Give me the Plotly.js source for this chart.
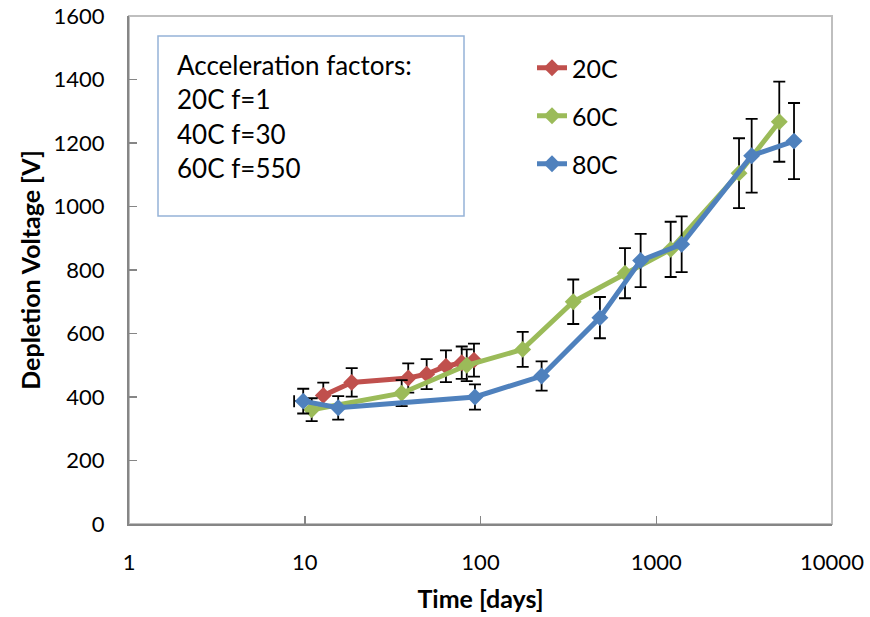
<!DOCTYPE html>
<html>
<head>
<meta charset="utf-8">
<script src="https://cdn.plot.ly/plotly-3.0.1.min.js"></script>
<style>html,body{margin:0;padding:0;background:#fff;}#chart{width:870px;height:617px;}</style>
</head>
<body>
<div id="chart"></div>
<script>
// 20C
const t20 = [12.75, 18.5, 38.8, 49.4, 63.6, 78.2, 91.8];
const v20 = [405, 446, 460, 472, 497, 508, 516];
const e20 = [40, 45, 46, 47, 50, 51, 52];
// 60C
const t60 = [10.95, 35.6, 83.5, 173.8, 337, 664, 1208, 2958, 5012];
const v60 = [360, 412, 500, 550, 700, 790, 865, 1105, 1267];
const e60 = [36, 41, 50, 55, 70, 79, 87, 110, 126];
// 80C
const t80 = [9.8, 15.5, 93, 222.7, 478, 815, 1395, 3490, 6080];
const v80 = [387, 366, 400, 466, 650, 830, 881, 1160, 1206];
const e80 = [39, 37, 40, 46, 65, 84, 88, 116, 120];
const e80xMinus = [1.1, 0, 0, 0, 0, 0, 0, 0, 0];

const xTickVals = [1, 10, 100, 1000, 10000];
const xTickText = ['1', '10', '100', '1000', '10000'];
const boxLines = ['Acceleration factors:', '20C f=1', '40C f=30', '60C f=550'];

const FONT = 'Lato, "Open Sans", sans-serif';
const errStyle = {type: 'data', visible: true, color: '#000', thickness: 1.8, width: 6};

function trace(name, x, y, e, color, legend, ex) {
  const tr = {
    type: 'scatter', mode: 'lines+markers', name: name, x: x, y: y,
    line: {color: color, width: 5},
    marker: {symbol: 'diamond', size: 13, color: color},
    error_y: Object.assign({array: e}, errStyle),
    legend: legend
  };
  if (ex) tr.error_x = Object.assign({symmetric: false, array: ex.map(() => 0), arrayminus: ex}, errStyle);
  return tr;
}

const data = [
  trace('20C', t20, v20, e20, '#C0504D', 'legend'),
  trace('60C', t60, v60, e60, '#9BBB59', 'legend2'),
  trace('80C', t80, v80, e80, '#4F81BD', 'legend3', e80xMinus)
];

const W = 870, H = 617, L = 129, R = 38, T = 16, B = 93;
const pw = W - L - R, ph = H - T - B;
function px2x(p) { return (p - L) / pw; }
function py2y(p) { return 1 - (p - T) / ph; }

const legendCommon = {
  xref: 'paper', yref: 'paper', xanchor: 'left', yanchor: 'middle',
  bgcolor: 'rgba(0,0,0,0)', borderwidth: 0,
  font: {family: FONT, size: 25, color: '#000'}
};

const annotations = boxLines.map((s, i) => ({
  xref: 'paper', yref: 'paper', x: px2x(175), y: py2y(65 + i * 34.3),
  xanchor: 'left', yanchor: 'middle', showarrow: false, text: s,
  font: {family: FONT, size: 26, color: '#000'}
}));

const layout = {
  width: W, height: H,
  margin: {l: L, r: R, t: T, b: B, pad: 0},
  paper_bgcolor: '#fff', plot_bgcolor: '#fff',
  font: {family: FONT, size: 21, color: '#000'},
  showlegend: true,
  legend: Object.assign({x: px2x(532), y: py2y(68)}, legendCommon),
  legend2: Object.assign({x: px2x(532), y: py2y(116)}, legendCommon),
  legend3: Object.assign({x: px2x(532), y: py2y(164)}, legendCommon),
  xaxis: {
    type: 'log', range: [0, 4], tickvals: xTickVals, ticktext: xTickText,
    showgrid: false, zeroline: false,
    showline: true, linecolor: '#868686', linewidth: 2,
    ticks: 'inside', ticklen: 8, tickcolor: '#868686', tickwidth: 1.5,
    ticklabelstandoff: 18,
    tickfont: {family: FONT, size: 22, color: '#000'},
    title: {text: '<b>Time [days]</b>', font: {family: FONT, size: 25, color: '#000'}, standoff: 16}
  },
  yaxis: {
    range: [0, 1600], dtick: 200, tick0: 0,
    showgrid: false, zeroline: false,
    showline: true, linecolor: '#868686', linewidth: 2,
    ticks: 'inside', ticklen: 8, tickcolor: '#868686', tickwidth: 1.5,
    ticklabelstandoff: 18,
    tickfont: {family: FONT, size: 22, color: '#000'},
    title: {text: '<b>Depletion Voltage [V]</b>', font: {family: FONT, size: 25, color: '#000'}, standoff: 6}
  },
  shapes: [
    {type: 'rect', xref: 'paper', yref: 'paper', x0: 0, x1: 1, y0: 0, y1: 1,
     line: {color: '#BFBFBF', width: 2}, layer: 'below'},
    {type: 'rect', xref: 'paper', yref: 'paper', x0: px2x(158), x1: px2x(464), y0: py2y(216), y1: py2y(36),
     line: {color: '#95B3D7', width: 1.5}, fillcolor: '#fff', layer: 'below'}
  ],
  annotations: annotations
};

Plotly.newPlot('chart', data, layout, {displayModeBar: false, staticPlot: true});
</script>
</body>
</html>
